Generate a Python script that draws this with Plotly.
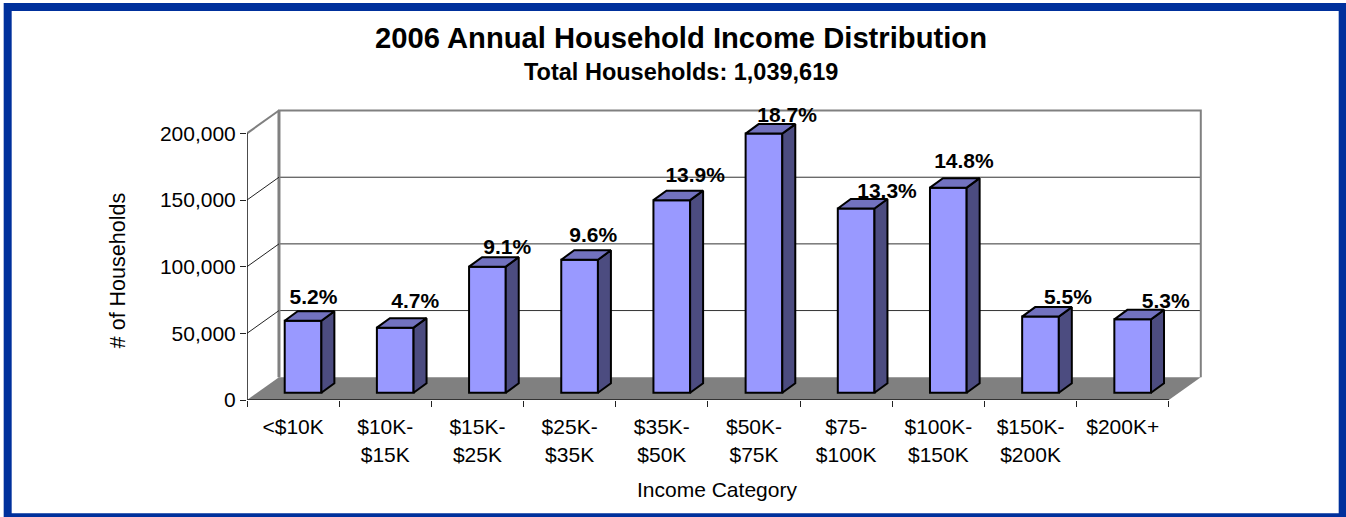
import plotly.graph_objects as go

# Income brackets and household counts
categories = ["<$10K", "$10K-<br>$15K", "$15K-<br>$25K", "$25K-<br>$35K", "$35K-<br>$50K",
              "$50K-<br>$75K", "$75-<br>$100K", "$100K-<br>$150K", "$150K-<br>$200K", "$200K+"]
households = [54060, 48862, 94605, 99803, 144507, 194409, 138269, 153864, 57179, 55100]
share_labels = ["5.2%", "4.7%", "9.1%", "9.6%", "13.9%", "18.7%", "13.3%", "14.8%", "5.5%", "5.3%"]
y_ticks = [0, 50000, 100000, 150000, 200000]

# Page and plot-area geometry, in pixels
WIDTH, HEIGHT = 1346, 517
LEFT, BOTTOM_Y = 246.5, 400.5
PX_PER_CATEGORY = 92.25
HOUSEHOLDS_PER_PX = 749.1
X_MAX, Y_MAX = 10.36, 219000


def dx_px(px):
    return px / PX_PER_CATEGORY


def dy_px(px):
    return px * HOUSEHOLDS_PER_PX


# Oblique projection offsets for the pseudo-3D box and the bars
WALL_DX, WALL_DY = dx_px(32), dy_px(22.8)
BAR_WIDTH = dx_px(36.7)
BAR_SHIFT = 0.608
BAR_BASE = dy_px(7.2)
BAR_DX, BAR_DY = dx_px(13), dy_px(9.5)

# Hand-placed data labels: nudge from the bar's top-centre, in pixels
label_nudge_x = [10.4, 20.1, 19.9, 13.6, 23.4, 23.1, 30.9, 15.6, 27.4, 33.1]
label_nudge_y = [22.0, 24.5, 17.9, 23.0, 23.3, 16.7, 15.6, 24.8, 17.9, 16.6]

GREY = "#808080"
BLUE = "#00309C"
FACE, TOP_FACE, SIDE_FACE = "#9999FF", "#7272BF", "#4C4C80"
FONT = "Liberation Sans"

plot_w = X_MAX * PX_PER_CATEGORY
plot_h = Y_MAX / HOUSEHOLDS_PER_PX
margin_t = BOTTOM_Y - plot_h
margin_b = HEIGHT - BOTTOM_Y
margin_r = WIDTH - LEFT - plot_w


def page_x(px):
    return (px - LEFT) / plot_w


def page_y(px):
    return (BOTTOM_Y - px) / plot_h


def poly(points):
    return "M" + " L".join(f"{x},{y}" for x, y in points) + " Z"


shapes = [
    # Outer frame
    dict(type="rect", xref="paper", yref="paper", layer="below",
         x0=page_x(7), x1=page_x(1343), y0=page_y(7), y1=page_y(518),
         line=dict(color=BLUE, width=8), fillcolor="white"),
    # Floor of the box
    dict(type="path", xref="x", yref="y", layer="below",
         path=poly([(0, 0), (10, 0), (10 + WALL_DX, WALL_DY), (WALL_DX, WALL_DY)]),
         fillcolor=GREY, line=dict(width=0)),
]
# Back-wall gridlines
for tick in y_ticks[1:-1]:
    shapes.append(dict(type="line", xref="x", yref="y", layer="below",
                       x0=WALL_DX, x1=10 + WALL_DX, y0=tick + WALL_DY, y1=tick + WALL_DY,
                       line=dict(color="#333333", width=1)))
# Grey outline of the back wall
shapes.append(dict(type="path", xref="x", yref="y", layer="below",
                   path=f"M{WALL_DX},{WALL_DY} L{WALL_DX},{200000 + WALL_DY} "
                        f"L{10 + WALL_DX},{200000 + WALL_DY} L{10 + WALL_DX},{WALL_DY}",
                   line=dict(color=GREY, width=2)))
shapes.append(dict(type="line", xref="x", yref="y", layer="below",
                   x0=WALL_DX, x1=WALL_DX, y0=WALL_DY, y1=200000 + WALL_DY,
                   line=dict(color=GREY, width=3)))

fig = go.Figure()

bar_x = [i + BAR_SHIFT for i in range(len(households))]
fig.add_bar(x=bar_x, y=households, base=BAR_BASE, width=BAR_WIDTH,
            marker=dict(color=FACE, line=dict(color="black", width=2)))

# Top and side faces of every bar, as one polygon trace each
side_x, side_y, top_x, top_y = [], [], [], []
for cx, value in zip(bar_x, households):
    xl, xr = cx - BAR_WIDTH / 2, cx + BAR_WIDTH / 2
    ytop = BAR_BASE + value
    side_x += [xr, xr + BAR_DX, xr + BAR_DX, xr, xr, None]
    side_y += [BAR_BASE, BAR_BASE + BAR_DY, ytop + BAR_DY, ytop, BAR_BASE, None]
    top_x += [xl, xl + BAR_DX, xr + BAR_DX, xr, xl, None]
    top_y += [ytop, ytop + BAR_DY, ytop + BAR_DY, ytop, ytop, None]
for xs, ys, color in [(side_x, side_y, SIDE_FACE), (top_x, top_y, TOP_FACE)]:
    fig.add_scatter(x=xs, y=ys, mode="lines", fill="toself", fillcolor=color,
                    line=dict(color="black", width=2), cliponaxis=False)

# Side-wall diagonals running from the front axis to the back wall
for tick in y_ticks:
    top = tick == y_ticks[-1]
    if tick == 0:
        continue
    fig.add_scatter(x=[0, WALL_DX], y=[tick, tick + WALL_DY], mode="lines",
                    line=dict(color=GREY if top else "#222222", width=2 if top else 1),
                    cliponaxis=False)

# Front axis lines
fig.add_scatter(x=[0, 0], y=[0, 200000], mode="lines",
                line=dict(color="#111111", width=1.5), cliponaxis=False)
fig.add_scatter(x=[0, 10], y=[0, 0], mode="lines",
                line=dict(color="#333333", width=2), cliponaxis=False)

# Percentage labels above the bars
fig.add_scatter(
    x=[cx + dx_px(nx) for cx, nx in zip(bar_x, label_nudge_x)],
    y=[BAR_BASE + v + dy_px(ny) for v, ny in zip(households, label_nudge_y)],
    mode="text", text=share_labels, textposition="middle center",
    textfont=dict(family=FONT, size=21, color="black", weight="bold"),
    cliponaxis=False,
)


def text_at(text, x, y, size, bold=False, angle=0):
    return dict(text=f"<b>{text}</b>" if bold else text, xref="paper", yref="paper",
                x=page_x(x), y=page_y(y), xanchor="center", yanchor="middle",
                showarrow=False, textangle=angle,
                font=dict(family=FONT, size=size, color="black"))


annotations = [
    text_at("Total Households: 1,039,619", 680.5, 72, 23.5, bold=True),
    text_at("# of Households", 117, 271, 21.5, angle=-90),
    text_at("Income Category", 717, 490, 21),
]

fig.update_layout(
    width=WIDTH, height=HEIGHT, autosize=False,
    margin=dict(l=LEFT, r=margin_r, t=margin_t, b=margin_b, pad=0),
    paper_bgcolor="white", plot_bgcolor="rgba(0,0,0,0)",
    showlegend=False, hovermode=False,
    title=dict(text="<b>2006 Annual Household Income Distribution</b>",
               x=681 / WIDTH, xanchor="center", y=1 - 38 / HEIGHT, yanchor="middle",
               font=dict(family=FONT, size=29.2, color="black")),
    shapes=shapes, annotations=annotations,
    xaxis=dict(range=[0, X_MAX], showgrid=False, zeroline=False, showline=False,
               tickvals=[i + 0.5 for i in range(len(categories))], ticktext=categories,
               ticks="outside", ticklen=0, tickcolor="rgba(0,0,0,0)",
               ticklabelstandoff=8,
               tickfont=dict(family=FONT, size=21, color="black"),
               minor=dict(tickvals=list(range(len(categories) + 1)), ticks="outside",
                          ticklen=6, tickwidth=1, tickcolor="#222222", showgrid=False)),
    yaxis=dict(range=[0, Y_MAX], showgrid=False, zeroline=False, showline=False,
               tickvals=y_ticks, tickformat=",", ticks="outside", ticklen=6,
               tickwidth=1, tickcolor="#222222",
               tickfont=dict(family=FONT, size=21, color="black")),
)

fig.write_html("out.html")
